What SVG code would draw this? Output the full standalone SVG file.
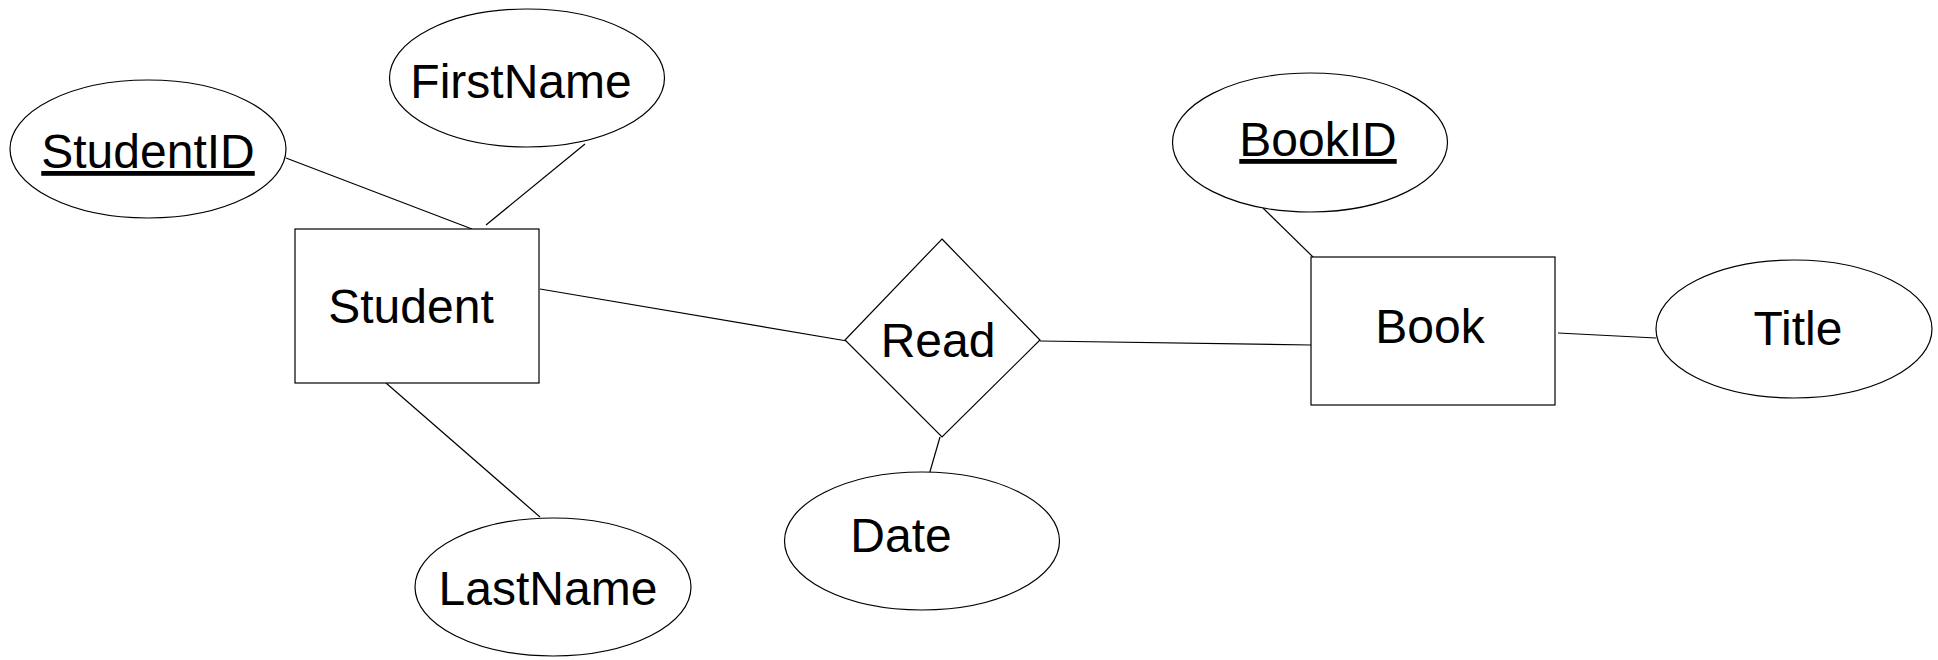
<svg xmlns="http://www.w3.org/2000/svg" width="1938" height="660" viewBox="0 0 1938 660">
<style>
.shape{fill:#fff;stroke:#000;stroke-width:1.2}
.lbl{font-family:"Liberation Sans",Arial,sans-serif;font-size:48px;fill:#000;text-anchor:middle}
.key{text-decoration:underline}
#connectors line{stroke:#000;stroke-width:1.2}
</style>
<rect width="1938" height="660" fill="#fff"/>
<g id="connectors">
<line x1="286" y1="158" x2="472" y2="229"/>
<line x1="585" y1="144" x2="486" y2="225"/>
<line x1="540" y1="289" x2="847" y2="341"/>
<line x1="386" y1="383" x2="540" y2="517"/>
<line x1="1040" y1="341" x2="1311" y2="345"/>
<line x1="940" y1="437" x2="929" y2="475"/>
<line x1="1263" y1="208" x2="1313" y2="257"/>
<line x1="1558" y1="333" x2="1656" y2="338"/>
</g>
<g id="student">
<rect class="shape" x="295" y="229" width="244" height="154"/>
<text class="lbl" x="411" y="323">Student</text>
</g>
<g id="studentid">
<ellipse class="shape" cx="148" cy="149" rx="138" ry="69"/>
<text class="lbl key" x="148" y="168">StudentID</text>
</g>
<g id="firstname">
<ellipse class="shape" cx="527" cy="78" rx="137.5" ry="69"/>
<text class="lbl" x="521" y="98">FirstName</text>
</g>
<g id="lastname">
<ellipse class="shape" cx="553" cy="587" rx="138" ry="69"/>
<text class="lbl" x="548" y="605">LastName</text>
</g>
<g id="read">
<polygon class="shape" points="942,239 1040,340 942,437 845,340"/>
<text class="lbl" x="938" y="357">Read</text>
</g>
<g id="date">
<ellipse class="shape" cx="922" cy="541" rx="137.5" ry="69"/>
<text class="lbl" x="901" y="552">Date</text>
</g>
<g id="book">
<rect class="shape" x="1311" y="257" width="244" height="148"/>
<text class="lbl" x="1430" y="343">Book</text>
</g>
<g id="bookid">
<ellipse class="shape" cx="1310" cy="142.5" rx="137.5" ry="69.5"/>
<text class="lbl key" x="1318" y="156">BookID</text>
</g>
<g id="title">
<ellipse class="shape" cx="1794" cy="329" rx="138" ry="69"/>
<text class="lbl" x="1798" y="345">Title</text>
</g>
</svg>
